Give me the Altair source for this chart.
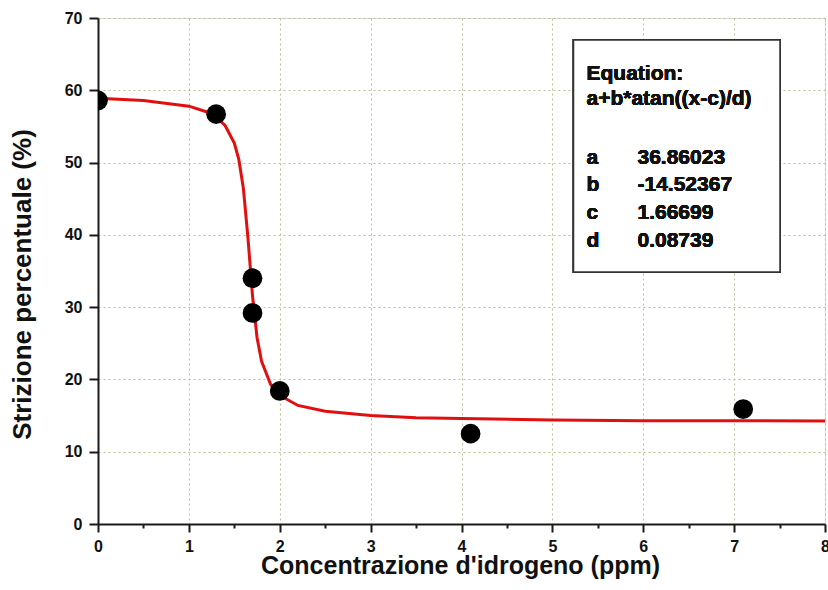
import altair as alt
import pandas as pd

# measured points
pt_x = [0.0, 1.3, 1.7, 1.7, 2.0, 4.1, 7.1]
pt_y = [58.6, 56.7, 34.0, 29.2, 18.4, 12.5, 15.9]

# fitted curve
cv_x = [0.0, 0.5, 1.0, 1.2, 1.3, 1.4, 1.5, 1.55, 1.6, 1.65, 1.7, 1.75, 1.8,
        1.9, 2.0, 2.2, 2.5, 3.0, 3.5, 4.0, 5.0, 6.0, 7.0, 8.0]
cv_y = [58.9, 58.6, 57.8, 57.0, 56.3, 55.1, 52.7, 50.4, 46.4, 39.6, 31.6, 25.8, 22.5,
        19.3, 17.8, 16.4, 15.6, 15.0, 14.7, 14.6, 14.4, 14.3, 14.3, 14.25]

x_ticks = [i * 0.5 for i in range(17)]
y_ticks = [i * 5 for i in range(15)]

eq_title = ["Equation:", "a+b*atan((x-c)/d)"]
par_names = ["a", "b", "c", "d"]
par_values = ["36.86023", "-14.52367", "1.66699", "0.08739"]

FONT = "Liberation Sans"
pts = pd.DataFrame({"x": pt_x, "y": pt_y})
cv = pd.DataFrame({"x": cv_x, "y": cv_y})

xs = alt.Scale(domain=[0, 8], nice=False)
ys = alt.Scale(domain=[0, 70], nice=False)

x_axis = alt.Axis(
    values=x_ticks,
    labelExpr="datum.value % 1 === 0 ? format(datum.value, 'd') : ''",
    tickSize={"condition": {"test": "datum.value % 1 === 0", "value": 8}, "value": 4},
    gridOpacity={"condition": {"test": "datum.value % 1 === 0", "value": 1}, "value": 0},
    grid=True, gridColor="#bdbd95", gridDash=[2, 3], gridWidth=1,
    domainColor="#1a1a1a", domainWidth=2, tickColor="#1a1a1a", tickWidth=2,
    labelFont=FONT, labelFontSize=16, labelFontWeight="bold", labelColor="#111",
    labelPadding=6, labelFlush=False,
    title="Concentrazione d'idrogeno (ppm)", titleFont=FONT, titleFontSize=25,
    titleFontWeight="bold", titleColor="#111", titleX=362, titleY=49,
    titleBaseline="alphabetic", titleAlign="center",
)
y_axis = alt.Axis(
    values=y_ticks,
    labelExpr="datum.value % 10 === 0 ? format(datum.value, 'd') : ''",
    tickSize={"condition": {"test": "datum.value % 10 === 0", "value": 9}, "value": 5},
    gridOpacity={"condition": {"test": "datum.value % 10 === 0", "value": 1}, "value": 0},
    grid=True, gridColor="#bdbd95", gridDash=[2, 3], gridWidth=1,
    domainColor="#1a1a1a", domainWidth=2, tickColor="#1a1a1a", tickWidth=2,
    labelFont=FONT, labelFontSize=16, labelFontWeight="bold", labelColor="#111",
    labelPadding=7, labelFlush=False,
    title="Strizione percentuale (%)", titleFont=FONT, titleFontSize=26,
    titleFontWeight="bold", titleColor="#111", titleX=-68, titleY=266,
    titleAngle=270, titleBaseline="alphabetic", titleAlign="center",
)

curve = alt.Chart(cv).mark_line(color="#e01010", strokeWidth=3, clip=True).encode(
    x=alt.X("x:Q", scale=xs, axis=x_axis),
    y=alt.Y("y:Q", scale=ys, axis=y_axis),
)
points = alt.Chart(pts).mark_circle(color="black", opacity=1, size=390, clip=True).encode(
    x=alt.X("x:Q", scale=xs),
    y=alt.Y("y:Q", scale=ys),
)

box = alt.Chart(pts).mark_rect(fill="white", stroke="#333", strokeWidth=1.5).encode(
    x=alt.value(475.5), x2=alt.value(682), y=alt.value(22), y2=alt.value(254)
)

layers = [curve, points, box]
text_props = dict(font=FONT, fontSize=21, fontWeight="bold", color="#111",
                  align="left", baseline="alphabetic")
for i, t in enumerate(eq_title):
    layers.append(alt.Chart(pts).mark_text(text=t, **text_props).encode(
        x=alt.value(488.5), y=alt.value(62 + 25 * i)))
for i, (n, v) in enumerate(zip(par_names, par_values)):
    layers.append(alt.Chart(pts).mark_text(text=n, **text_props).encode(
        x=alt.value(488.5), y=alt.value(145.5 + 27.8 * i)))
    layers.append(alt.Chart(pts).mark_text(text=v, **text_props).encode(
        x=alt.value(539.5), y=alt.value(145.5 + 27.8 * i)))

chart = alt.layer(*layers).properties(
    width=727, height=506,
    autosize=alt.AutoSizeParams(type="none"),
    padding={"left": 98, "top": 18, "right": 3, "bottom": 66},
).configure_view(stroke="#999", strokeWidth=1.5).configure(background="white")

chart.save("out.html", embed_options={"renderer": "svg", "actions": False})
